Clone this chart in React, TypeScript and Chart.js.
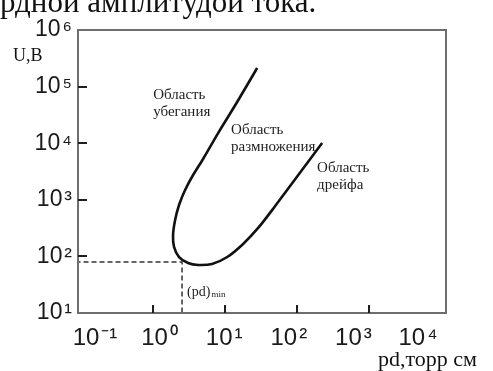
import React, { useEffect, useRef } from "react";
import { Chart, registerables } from "chart.js";

Chart.register(...registerables);

// Paschen-type curve (pd in torr*cm, U in volts)
const curvePd = [27.9, 14.7, 8.0, 4.94, 3.59, 2.78, 2.29, 2.02, 1.89, 1.95, 2.29, 3.06, 4.21, 6.59, 10.7, 17.8, 28.8, 49.6, 104, 223];
const curveU = [213000, 53500, 15100, 5260, 2740, 1490, 809, 440, 239, 147, 97.5, 76.4, 70.5, 73.5, 97.5, 166, 318, 776, 2740, 10090];

// dashed guide to the minimum
const minLinePd = [0.05, 2.52, 2.52];
const minLineU = [79.6, 79.6, 10];

// inward tick marks
const xTickValues = [1, 10, 100, 1000];
const yTickValues = [100, 1000, 10000, 100000];

// tick labels (powers of ten)
const xLabelExps = [-1, 0, 1, 2, 3, 4];
const yLabelExps = [1, 2, 3, 4, 5, 6];

const yAxisTitle = "U,B";
const xAxisTitle = "pd,торр см";
const topLine = "рдной амплитудой тока.";

const regionNotes = [
  { lines: ["Область", "убегания"], pd: 1.0, u: 71100 },
  { lines: ["Область", "размножения"], pd: 12.1, u: 17100 },
  { lines: ["Область", "дрейфа"], pd: 190, u: 3650 },
];
const minNote = { main: "(pd)", sub: "min", pd: 2.96, u: 23.5 };

const SUP: Record<string, string> = {
  "-": "⁻", "0": "⁰", "1": "¹", "2": "²", "3": "³", "4": "⁴", "5": "⁵", "6": "⁶", "7": "⁷", "8": "⁸", "9": "⁹",
};
const pow10Label = (e: number) => "10\u200A" + String(e).split("").map((c) => SUP[c] || c).join("");

const SERIF = '"Liberation Serif", "Times New Roman", serif';
const SANS = '"Liberation Sans", Arial, sans-serif';

const decorPlugin = {
  id: "decor",
  afterDatasetsDraw(chart: any) {
    const { ctx, chartArea } = chart;
    const xs = chart.scales.x;
    const ys = chart.scales.y;
    ctx.save();
    // frame
    ctx.strokeStyle = "#6e6e6e";
    ctx.lineWidth = 2;
    ctx.strokeRect(chartArea.left, chartArea.top, chartArea.right - chartArea.left, chartArea.bottom - chartArea.top);
    // inward ticks
    ctx.strokeStyle = "#1e1e1e";
    ctx.lineWidth = 2;
    ctx.beginPath();
    xTickValues.forEach((v) => {
      const px = Math.round(xs.getPixelForValue(v));
      ctx.moveTo(px, chartArea.bottom);
      ctx.lineTo(px, chartArea.bottom - 8);
    });
    yTickValues.forEach((v) => {
      const py = Math.round(ys.getPixelForValue(v));
      ctx.moveTo(chartArea.left, py);
      ctx.lineTo(chartArea.left + 9, py);
    });
    ctx.stroke();
    ctx.restore();
  },
  afterDraw(chart: any) {
    const { ctx } = chart;
    const xs = chart.scales.x;
    const ys = chart.scales.y;
    ctx.save();
    ctx.fillStyle = "#1e1e1e";
    ctx.textAlign = "left";
    ctx.textBaseline = "middle";
    ctx.font = "15px " + SERIF;
    regionNotes.forEach((n) => {
      const x = xs.getPixelForValue(n.pd);
      const y = ys.getPixelForValue(n.u);
      n.lines.forEach((t, i) => ctx.fillText(t, x, y + i * 17));
    });
    // (pd)min
    {
      const x = xs.getPixelForValue(minNote.pd);
      const y = ys.getPixelForValue(minNote.u);
      ctx.font = "14px " + SERIF;
      ctx.fillText(minNote.main, x, y);
      const w = ctx.measureText(minNote.main).width;
      ctx.font = "9px " + SERIF;
      ctx.fillText(minNote.sub, x + w + 1, y + 3);
    }
    // axis titles
    ctx.fillStyle = "#111";
    ctx.font = "18px " + SERIF;
    ctx.fillText(yAxisTitle, 13, 56);
    ctx.textBaseline = "alphabetic";
    ctx.font = "22px " + SERIF;
    ctx.fillText(xAxisTitle, 378, 366);
    // cut line of text at top
    ctx.font = "31px " + SERIF;
    ctx.fillText(topLine, 0, 12);
    ctx.restore();
  },
};

export default function App() {
  const ref = useRef<HTMLCanvasElement>(null);
  useEffect(() => {
    if (!ref.current) return;
    const chart = new Chart(ref.current, {
      type: "scatter",
      data: {
        datasets: [
          {
            data: curvePd.map((x, i) => ({ x, y: curveU[i] })),
            showLine: true,
            borderColor: "#111",
            borderWidth: 2.6,
            pointRadius: 0,
            tension: 0.3,
            xAxisID: "x",
            yAxisID: "y",
          },
          {
            data: minLinePd.map((x, i) => ({ x, y: minLineU[i] })),
            showLine: true,
            borderColor: "#333",
            borderWidth: 1.5,
            borderDash: [5, 3],
            pointRadius: 0,
            tension: 0,
            xAxisID: "x",
            yAxisID: "y",
          },
        ],
      },
      options: {
        responsive: false,
        animation: false,
        devicePixelRatio: 1,
        layout: { padding: { left: 0, top: 30, right: 47, bottom: 0 } },
        plugins: { legend: { display: false }, tooltip: { enabled: false }, title: { display: false } },
        scales: {
          x: {
            type: "logarithmic",
            display: false,
            min: Math.pow(10, -1.0445),
            max: Math.pow(10, 4.07),
          },
          x2: {
            type: "linear",
            axis: "x",
            position: "bottom",
            min: -0.263,
            max: 5.433,
            grid: { display: false, drawTicks: false },
            border: { display: false },
            afterBuildTicks: (s: any) => {
              s.ticks = xLabelExps.map((_, i) => ({ value: i }));
            },
            afterFit: (s: any) => {
              s.height = 58;
            },
            ticks: {
              padding: 11,
              maxRotation: 0,
              autoSkip: false,
              color: "#1a1a1a",
              font: { family: SANS, size: 24 },
              callback: (v: any) => pow10Label(xLabelExps[Math.round(Number(v))]),
            },
          },
          y: {
            type: "logarithmic",
            position: "left",
            min: 10,
            max: 1000000,
            grid: { display: false, drawTicks: false },
            border: { display: false },
            afterBuildTicks: (s: any) => {
              s.ticks = yLabelExps.map((e) => ({ value: Math.pow(10, e) }));
            },
            afterFit: (s: any) => {
              s.width = 78;
            },
            ticks: {
              padding: 6,
              autoSkip: false,
              color: "#1a1a1a",
              font: { family: SANS, size: 23 },
              callback: (v: any) => pow10Label(Math.round(Math.log10(Number(v)))),
            },
          },
        },
      },
      plugins: [decorPlugin],
    });
    return () => chart.destroy();
  }, []);
  return (
    <div style={{ position: "fixed", left: 0, top: 0, width: 493, height: 371, background: "#fff" }}>
      <canvas ref={ref} width={493} height={371} style={{ display: "block" }} />
    </div>
  );
}
